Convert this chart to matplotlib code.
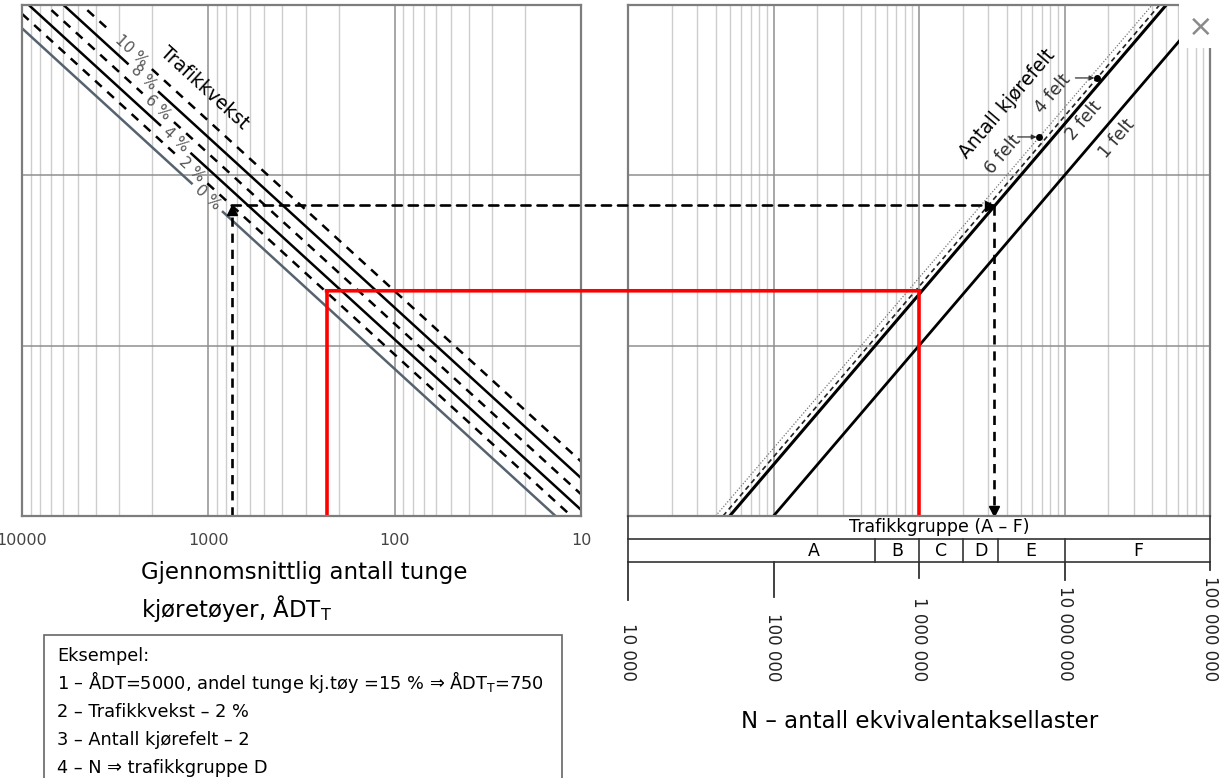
import numpy as np
import matplotlib.pyplot as plt
from matplotlib.patches import Rectangle, ConnectionPatch
from matplotlib.transforms import offset_copy
from matplotlib.ticker import NullFormatter, NullLocator, LogLocator

plt.rcParams["font.family"] = ["DejaVu Sans"]

W, H = 1223, 778

# ------------------------------------------------------------
# Verdier lest av nomogrammet
# ------------------------------------------------------------
growth_label = ["0 %", "2 %", "4 %", "6 %", "8 %", "10 %"]
growth_sum = [20.0, 24.3, 29.8, 36.8, 45.8, 57.3]   # akkumulert faktor, 20 år
growth_dashed = [False, True, False, True, False, True]
days_per_year = 365

lane_names = ["6 felt", "4 felt", "1 felt", "2 felt"]
lane_factor = [0.40, 0.45, 1.0, 0.5]

adt_ticks = [10000, 1000, 100, 10]
adt_ticklabels = ["10000", "1000", "100", "10"]

n_ticks = [1e4, 1e5, 1e6, 1e7, 1e8]
n_ticklabels = ["10 000", "100 000", "1 000 000", "10 000 000", "100 000 000"]

groups = ["A", "B", "C", "D", "E", "F"]
group_edges = [1e4, 5e5, 1e6, 2e6, 3.5e6, 1e7, 1e8]

# eksempel (svart stiplet) og rød avlesning
ex_adt, ex_y, ex_n = 750, 6.65e6, 3.3e6
red_adt, red_y, red_n = 232, 2.1e6, 1.0e6

example_lines = [
    "Eksempel:",
    "1 – ÅDT=5000, andel tunge kj.tøy =15 % ⇒ ÅDT$_\\mathrm{T}$=750",
    "2 – Trafikkvekst – 2 %",
    "3 – Antall kjørefelt – 2",
    "4 – N ⇒ trafikkgruppe D",
]

# ------------------------------------------------------------
# Figur og akser (plassert i piksler)
# ------------------------------------------------------------
fig = plt.figure(figsize=(W / 100, H / 100), dpi=100)


def px_axes(x0, y0, x1, y1):
    return fig.add_axes([x0 / W, 1 - y1 / H, (x1 - x0) / W, (y1 - y0) / H])


axL = px_axes(22, 5, 581, 516)
axR = px_axes(628, 5, 1210, 516)

for ax in (axL, axR):
    ax.set_xscale("log")
    ax.set_yscale("log")
    ax.set_ylim(1e5, 1e8)
    ax.xaxis.set_minor_locator(LogLocator(base=10, subs=np.arange(2, 10)))
    ax.xaxis.set_minor_formatter(NullFormatter())
    ax.set_yticks([1e5, 1e6, 1e7, 1e8])
    ax.set_yticklabels([])
    ax.yaxis.set_minor_locator(NullLocator())
    ax.set_axisbelow(True)
    ax.grid(True, which="major", axis="both", color="#8f8f8f", lw=1.1)
    ax.grid(True, which="minor", axis="x", color="#cdcdcd", lw=1.0)
    ax.tick_params(which="both", length=0)
    for s in ax.spines.values():
        s.set_color("#7d7d7d")
        s.set_linewidth(1.6)

axL.set_xlim(1e4, 10)
axL.set_xticks(adt_ticks, adt_ticklabels)
axL.tick_params(axis="x", pad=12, labelsize=11.5, labelcolor="#444444")
axR.set_xlim(1e4, 1e8)
axR.set_xticks(n_ticks)
axR.tick_params(axis="x", labelbottom=False)


def angle(ax, p0, p1):
    a = ax.transData.transform(p0)
    b = ax.transData.transform(p1)
    return np.degrees(np.arctan2(b[1] - a[1], b[0] - a[0]))


angL = angle(axL, (1e4, 1e4), (10, 10))
angR = angle(axR, (1e5, 1e5), (1e8, 1e8))

# ------------------------------------------------------------
# Venstre: trafikkvekst-linjer
# ------------------------------------------------------------
label_adt = [1013, 1228, 1496, 1856, 2234, 2578]
for lab, f, dashed, a_lab in zip(growth_label, growth_sum, growth_dashed, label_adt):
    half = 10 ** (0.024 * len(lab) + 0.012)
    color = "#56636f" if lab == "0 %" else "black"
    ls = (0, (3.6, 3.0)) if dashed else "-"
    for seg in ([1e4, a_lab * half], [a_lab / half, 10.0]):
        seg = np.array(seg, dtype=float)
        axL.plot(seg, seg * days_per_year * f, color=color, lw=1.8, ls=ls,
                 dash_capstyle="butt")
    axL.text(a_lab, a_lab * days_per_year * f, lab, rotation=angL,
             rotation_mode="anchor", ha="center", va="center",
             fontsize=11, color="#555555")

# ------------------------------------------------------------
# Høyre: antall kjørefelt
# ------------------------------------------------------------
y_end = np.array([1e5, 1e8])
lane_style = {
    "6 felt": dict(color="#777777", lw=0.9, ls=(0, (1, 1.4))),
    "4 felt": dict(color="#222222", lw=1.2, ls=(0, (3, 2.2))),
    "1 felt": dict(color="black", lw=2.0, ls="-"),
    "2 felt": dict(color="black", lw=2.2, ls="-"),
}
for name, f in zip(lane_names, lane_factor):
    axR.plot(f * y_end, y_end, **lane_style[name])

# pekere for 6 og 4 felt
for f, yd in ((0.40, 1.68e7), (0.45, 3.73e7)):
    nd = f * yd
    axR.annotate("", xy=(nd, yd), xytext=(nd / 10 ** 0.15, yd),
                 arrowprops=dict(arrowstyle="-|>", color="#333333", lw=0.9,
                                 mutation_scale=7, shrinkA=0, shrinkB=2))
    axR.plot([nd], [yd], "o", ms=4, color="black")

# ------------------------------------------------------------
# Eksempel (svart stiplet) og rød avlesning
# ------------------------------------------------------------
ex_ls = (0, (3.5, 2.6))
axL.plot([ex_adt, ex_adt], [1e5, ex_y], color="black", lw=1.9, ls=ex_ls)
axR.plot([ex_n, ex_n], [ex_y, 1e5], color="black", lw=1.9, ls=ex_ls)
fig.add_artist(ConnectionPatch(xyA=(ex_adt, ex_y), coordsA=axL.transData,
                               xyB=(ex_n, ex_y), coordsB=axR.transData,
                               color="black", lw=1.9, ls=ex_ls, zorder=4))
axL.plot([ex_adt], [ex_y], marker="^", ms=7, color="black", clip_on=False,
         transform=offset_copy(axL.transData, fig=fig, y=-3.5, units="points"))
axR.plot([ex_n], [ex_y], marker=">", ms=7, color="black", clip_on=False,
         transform=offset_copy(axR.transData, fig=fig, x=-3.5, units="points"))
axR.plot([ex_n], [1e5], marker="v", ms=7, color="black", clip_on=False,
         transform=offset_copy(axR.transData, fig=fig, y=3.5, units="points"))

red = "#ff0000"
axL.plot([red_adt, red_adt], [1e5, red_y], color=red, lw=2.6,
         solid_capstyle="projecting")
axR.plot([red_n, red_n], [red_y, 1e5], color=red, lw=2.6,
         solid_capstyle="projecting")
fig.add_artist(ConnectionPatch(xyA=(red_adt, red_y), coordsA=axL.transData,
                               xyB=(red_n, red_y), coordsB=axR.transData,
                               color=red, lw=2.6, capstyle="projecting",
                               zorder=4))

# ------------------------------------------------------------
# Overlegg i piksler: tekster, tabell, eksempelboks
# ------------------------------------------------------------
ov = fig.add_axes([0, 0, 1, 1], zorder=5)
ov.set_xlim(0, W)
ov.set_ylim(H, 0)
ov.axis("off")
ov.patch.set_visible(False)

ov.text(204, 88, "Trafikkvekst", rotation=angL, rotation_mode="anchor",
        ha="center", va="center", fontsize=13.5)
ov.text(1007, 104, "Antall kjørefelt", rotation=angR, rotation_mode="anchor",
        ha="center", va="center", fontsize=13.5)
felt_px = {"6 felt": (1003, 155), "4 felt": (1053, 94),
           "2 felt": (1084, 121), "1 felt": (1117, 139)}
for name, (x, y) in felt_px.items():
    ov.text(x, y, name, rotation=angR, rotation_mode="anchor", ha="center",
            va="center", fontsize=12.5, color="#333333")

ov.text(141, 579, "Gjennomsnittlig antall tunge", fontsize=16.5, va="baseline")
ov.text(141, 617, "kjøretøyer, ÅDT$_\\mathrm{T}$", fontsize=16.5, va="baseline")
ov.text(920, 728, "N – antall ekvivalentaksellaster", fontsize=16.5,
        ha="center", va="baseline")

# eksempelboks
ov.add_patch(Rectangle((44, 635), 518, 170, fc="white", ec="#666666",
                       lw=1.2, clip_on=False))
for i, line in enumerate(example_lines):
    ov.text(57, 661 + 28 * i, line, fontsize=12.8, va="baseline")


# trafikkgruppe-tabell under høyre akse
def nx(n):
    return axR.transData.transform((n, 1e5))[0]


tcol = "#333333"
xl, xr = nx(group_edges[0]), nx(group_edges[-1])
for yy in (539, 562):
    ov.plot([xl, xr], [yy, yy], color=tcol, lw=1.2)
for e in group_edges[1:-1]:
    ov.plot([nx(e)] * 2, [539, 562], color=tcol, lw=1.2)
ov.plot([xl, xl], [516, 562], color=tcol, lw=1.2)
ov.plot([xr, xr], [516, 562], color=tcol, lw=1.2)
ov.text((xl + xr) / 2 + 20, 527.5, "Trafikkgruppe (A – F)", fontsize=12.5,
        ha="center", va="center")
group_at = [1.9e5, 7.1e5, 1.41e6, 2.65e6, 5.9e6, 3.2e7]
for g, n in zip(groups, group_at):
    ov.text(nx(n), 551, g, fontsize=12.5, ha="center", va="center")

tick_len = [38, 35, 16, 18, 8]
for n, lab, tl in zip(n_ticks, n_ticklabels, tick_len):
    ov.plot([nx(n)] * 2, [562, 562 + tl], color=tcol, lw=1.3)
    ov.text(nx(n), 681, lab, rotation=270, ha="center", va="bottom",
            fontsize=12, color="#222222")

# lukkeknapp øverst til høyre (skjermbilde)
ov.add_patch(Rectangle((1179, -2), 50, 50, fc="white", ec="none", zorder=10))
ov.text(1201, 27, "×", fontsize=22, color="#8a8a8a", ha="center",
        va="center", zorder=11)

fig.savefig("out.png", dpi=100)
